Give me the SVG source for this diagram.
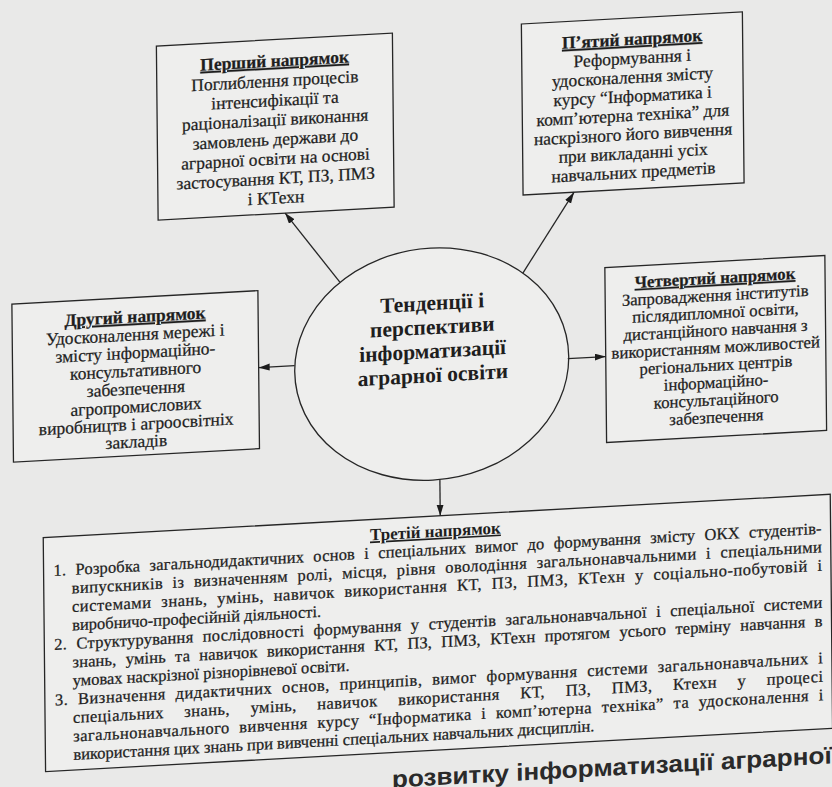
<svg xmlns="http://www.w3.org/2000/svg" width="832" height="787" viewBox="0 0 832 787">
<style>
.bg{fill:#e9e9e8}
.box{fill:#eeeeed;stroke:#262626;stroke-width:1.3}
.t{font-family:'Liberation Serif','Times New Roman',serif;font-size:17.5px;fill:#1e1e1e;stroke:#1e1e1e;stroke-width:0.25;text-anchor:middle}
.s{font-size:16.8px}
.h{font-weight:bold;text-decoration:underline}
.c{font-family:'Liberation Serif','Times New Roman',serif;font-size:21.5px;font-weight:bold;fill:#1e1e1e;text-anchor:middle}
.b{font-family:'Liberation Serif','Times New Roman',serif;font-size:16.5px;fill:#1e1e1e;stroke:#1e1e1e;stroke-width:0.25}
.j{word-spacing:5px}
.jw{word-spacing:16px}
.bh{font-family:'Liberation Serif','Times New Roman',serif;font-size:17px;fill:#1e1e1e;font-weight:bold;text-decoration:underline;text-anchor:middle}
.ln{fill:none;stroke:#262626;stroke-width:1.3;marker-end:url(#ah)}
.foot{font-family:'Liberation Sans',Arial,sans-serif;font-size:24px;font-weight:bold;fill:#2a2a2a}
</style>
<defs>
<marker id="ah" markerUnits="userSpaceOnUse" markerWidth="12" markerHeight="8" refX="11" refY="3.5" orient="auto">
<path d="M0,0 L11,3.5 L0,7 Z" fill="#1c1c1c"/>
</marker>
</defs>
<rect class="bg" x="0" y="0" width="832" height="787"/>
<g transform="matrix(1 -0.055 0.01 1 -3.93 22.88)">
<g id="n1">
<rect class="box" x="160" y="32" width="236" height="174"/>
<text class="t h" x="278" y="59">Перший напрямок</text>
<text class="t" x="278" y="79">Поглиблення процесів</text>
<text class="t" x="278" y="98.5">інтенсифікації та</text>
<text class="t" x="278" y="118">раціоналізації виконання</text>
<text class="t" x="278" y="137.5">замовлень держави до</text>
<text class="t" x="278" y="157">аграрної освіти на основі</text>
<text class="t" x="278" y="176.5">застосування КТ, ПЗ, ПМЗ</text>
<text class="t" x="278" y="196">і КТехн</text>
</g>
<g id="n5">
<rect class="box" x="525" y="30" width="221" height="171"/>
<text class="t h" x="635.5" y="57">П’ятий напрямок</text>
<text class="t" x="635.5" y="76">Реформування і</text>
<text class="t" x="635.5" y="95">удосконалення змісту</text>
<text class="t" x="635.5" y="114">курсу “Інформатика і</text>
<text class="t" x="635.5" y="133">комп’ютерна техніка” для</text>
<text class="t" x="635.5" y="152">наскрізного його вивчення</text>
<text class="t" x="635.5" y="171">при викладанні усіх</text>
<text class="t" x="635.5" y="190">навчальних предметів</text>
</g>
<g id="n2">
<rect class="box" x="13" y="282" width="246" height="158"/>
<text class="t h" x="136" y="307">Другий напрямок</text>
<text class="t" x="136" y="325">Удосконалення мережі і</text>
<text class="t" x="136" y="343">змісту інформаційно-</text>
<text class="t" x="136" y="361">консультативного</text>
<text class="t" x="136" y="379">забезпечення</text>
<text class="t" x="136" y="397">агропромислових</text>
<text class="t" x="136" y="414.5">виробництв і агроосвітніх</text>
<text class="t" x="136" y="432">закладів</text>
</g>
<g id="n4">
<rect class="box" x="606" y="278" width="220" height="175"/>
<text class="t s h" x="716" y="300">Четвертий напрямок</text>
<text class="t s" x="716" y="317.4">Запровадження інститутів</text>
<text class="t s" x="716" y="334.8">післядипломної освіти,</text>
<text class="t s" x="716" y="352.2">дистанційного навчання з</text>
<text class="t s" x="716" y="369.6">використанням можливостей</text>
<text class="t s" x="716" y="387">регіональних центрів</text>
<text class="t s" x="716" y="404.4">інформаційно-</text>
<text class="t s" x="716" y="421.8">консультаційного</text>
<text class="t s" x="716" y="439.2">забезпечення</text>
</g>
<g id="center">
<ellipse class="box" cx="432" cy="365" rx="137" ry="116"/>
<text class="c" x="433" y="311">Тенденції і</text>
<text class="c" x="433" y="335">перспективи</text>
<text class="c" x="433" y="359">інформатизації</text>
<text class="c" x="433" y="383">аграрної освіти</text>
</g>
<g id="n3">
<rect class="box" x="42" y="517" width="787" height="234"/>
<text class="bh" x="434" y="538">Третій напрямок</text>
<text class="b j" x="52" y="556" textLength="768" lengthAdjust="spacing">1. Розробка загальнодидактичних основ і спеціальних вимог до формування змісту ОКХ студентів-</text>
<text class="b j" x="70" y="574.5" textLength="750" lengthAdjust="spacing">випускників із визначенням ролі, місця, рівня оволодіння загальнонавчальними і спеціальними</text>
<text class="b j" x="70" y="593" textLength="750" lengthAdjust="spacing">системами знань, умінь, навичок використання КТ, ПЗ, ПМЗ, КТехн у соціально-побутовій і</text>
<text class="b" x="70" y="611.5">виробничо-професійній діяльності.</text>
<text class="b j" x="52" y="630" textLength="768" lengthAdjust="spacing">2. Структурування послідовності формування у студентів загальнонавчальної і спеціальної системи</text>
<text class="b j" x="70" y="648.5" textLength="750" lengthAdjust="spacing">знань, умінь та навичок використання КТ, ПЗ, ПМЗ, КТехн протягом усього терміну навчання в</text>
<text class="b" x="70" y="667">умовах наскрізної різнорівневої освіти.</text>
<text class="b j" x="52" y="685.5" textLength="768" lengthAdjust="spacing">3. Визначення дидактичних основ, принципів, вимог формування системи загальнонавчальних і</text>
<text class="b jw" x="70" y="704" textLength="750" lengthAdjust="spacing">спеціальних знань, умінь, навичок використання КТ, ПЗ, ПМЗ, Ктехн у процесі</text>
<text class="b j" x="70" y="722.5" textLength="750" lengthAdjust="spacing">загальнонавчального вивчення курсу “Інформатика і комп’ютерна техніка” та удосконалення і</text>
<text class="b" x="70" y="741">використання цих знань при вивченні спеціальних навчальних дисциплін.</text>
</g>
<g id="connectors">
<line class="ln" x1="341" y1="278" x2="287" y2="206"/>
<line class="ln" x1="524" y1="279" x2="576" y2="201"/>
<line class="ln" x1="295" y1="359" x2="259" y2="359"/>
<line class="ln" x1="568" y1="367" x2="606" y2="367"/>
<line class="ln" x1="439" y1="481" x2="439" y2="517"/>
</g>
<text class="foot" x="388" y="786" textLength="440" lengthAdjust="spacingAndGlyphs">розвитку інформатизації аграрної</text>
</g>
</svg>
